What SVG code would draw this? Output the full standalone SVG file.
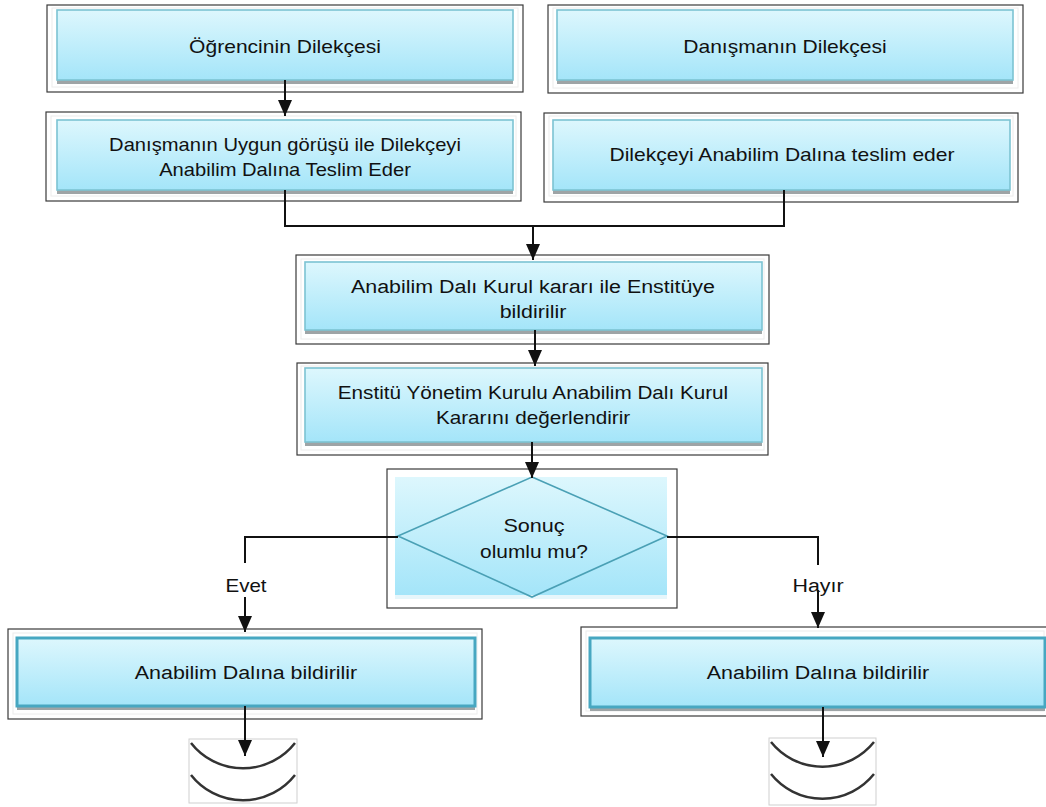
<svg xmlns="http://www.w3.org/2000/svg" width="1046" height="807" viewBox="0 0 1046 807">
<style>
.frame{fill:#fff;stroke:#3a3a3a;stroke-width:1.2}
.glow{fill:none;stroke:#ececec;stroke-width:1}
.shadow{fill:#9ea4a6}
.box{fill:url(#blue);stroke:#7cc3d3;stroke-width:1.6}
.boxb{fill:url(#blue);stroke:#47a7c1;stroke-width:3}
.t{font-family:"Liberation Sans",Arial,sans-serif;font-size:18px;fill:#111;text-anchor:middle}
.c{fill:none;stroke:#111;stroke-width:2}
.arc{fill:none;stroke:#333;stroke-width:2.5}
.end{fill:#fff;stroke:#cfcfcf;stroke-width:1}
</style>
<defs>
<linearGradient id="blue" x1="0" y1="0" x2="0" y2="1">
<stop offset="0" stop-color="#ddf7fd"/>
<stop offset="1" stop-color="#a4e5f9"/>
</linearGradient>
<marker id="ah" viewBox="0 0 16 14" refX="16" refY="7" markerWidth="16" markerHeight="14" markerUnits="userSpaceOnUse" orient="auto">
<path d="M0,0 L16,7 L0,14 Z" fill="#111"/>
</marker>
</defs>
<rect width="1046" height="807" fill="#fff"/>

<g id="n1">
<rect class="frame" x="47" y="5" width="476" height="87"/>
<rect class="glow" x="52" y="8" width="466" height="79"/>
<rect class="shadow" x="57" y="80" width="456" height="4"/>
<rect class="box" x="57" y="10" width="456" height="70"/>
<text class="t" transform="translate(285 53) scale(1.17 1)">Öğrencinin Dilekçesi</text>
</g>

<g id="n2">
<rect class="frame" x="46" y="112" width="475" height="89"/>
<rect class="glow" x="51" y="116" width="465" height="80"/>
<rect class="shadow" x="57" y="190" width="456" height="4"/>
<rect class="box" x="57" y="120" width="456" height="70"/>
<text class="t" transform="translate(285 151) scale(1.12 1)">Danışmanın Uygun görüşü ile Dilekçeyi</text>
<text class="t" transform="translate(285 176) scale(1.12 1)">Anabilim Dalına Teslim Eder</text>
</g>

<g id="n3">
<rect class="frame" x="548" y="5" width="475" height="88"/>
<rect class="glow" x="553" y="8" width="465" height="80"/>
<rect class="shadow" x="557" y="80" width="456" height="4"/>
<rect class="box" x="557" y="10" width="456" height="70"/>
<text class="t" transform="translate(785 53) scale(1.17 1)">Danışmanın Dilekçesi</text>
</g>

<g id="n4">
<rect class="frame" x="544" y="113" width="474" height="89"/>
<rect class="glow" x="549" y="116" width="464" height="80"/>
<rect class="shadow" x="553" y="190" width="457" height="4"/>
<rect class="box" x="553" y="120" width="457" height="70"/>
<text class="t" transform="translate(782 161) scale(1.17 1)">Dilekçeyi Anabilim Dalına teslim eder</text>
</g>

<g id="n5">
<rect class="frame" x="296" y="255" width="473" height="89"/>
<rect class="glow" x="301" y="259" width="463" height="80"/>
<rect class="shadow" x="305" y="330" width="457" height="4"/>
<rect class="box" x="305" y="262" width="457" height="68"/>
<text class="t" transform="translate(533 293) scale(1.19 1)">Anabilim Dalı Kurul kararı ile Enstitüye</text>
<text class="t" transform="translate(533 318) scale(1.19 1)">bildirilir</text>
</g>

<g id="n6">
<rect class="frame" x="297" y="363" width="471" height="92"/>
<rect class="glow" x="301" y="366" width="463" height="84"/>
<rect class="shadow" x="305" y="442" width="457" height="4"/>
<rect class="box" x="305" y="368" width="457" height="74"/>
<text class="t" transform="translate(533 399) scale(1.15 1)">Enstitü Yönetim Kurulu Anabilim Dalı Kurul</text>
<text class="t" transform="translate(533 424) scale(1.15 1)">Kararını değerlendirir</text>
</g>

<g id="n7">
<rect class="frame" x="387" y="469" width="290" height="139"/>
<rect x="395" y="477" width="272" height="118" fill="url(#blue)"/>
<rect x="395" y="595" width="272" height="4" fill="#e6f6fb"/>
<path d="M532,477 L667,536 L532,597 L398,536 Z" fill="none" stroke="#4aa0b5" stroke-width="1.6"/>
<text class="t" transform="translate(534 532) scale(1.2 1)">Sonuç</text>
<text class="t" transform="translate(534 558) scale(1.16 1)">olumlu mu?</text>
</g>

<g id="n8">
<rect class="frame" x="8" y="629" width="474" height="90"/>
<rect class="glow" x="13" y="633" width="464" height="81"/>
<rect class="shadow" x="17" y="706" width="458" height="4"/>
<rect class="boxb" x="17" y="638" width="458" height="68"/>
<text class="t" transform="translate(246 679) scale(1.19 1)">Anabilim Dalına bildirilir</text>
</g>

<g id="n9">
<rect class="frame" x="581" y="627" width="466" height="89"/>
<rect class="glow" x="586" y="631" width="458" height="80"/>
<rect class="shadow" x="590" y="707" width="455" height="4"/>
<rect class="boxb" x="590" y="638" width="455" height="69"/>
<text class="t" transform="translate(818 679) scale(1.19 1)">Anabilim Dalına bildirilir</text>
</g>

<g id="n10">
<rect class="end" x="189" y="739" width="108" height="64"/>
<path class="arc" d="M191,743 A66,66 0 0 0 295,743"/>
<path class="arc" d="M191,775 A66,66 0 0 0 295,775"/>
</g>

<g id="n11">
<rect class="end" x="769" y="738" width="107" height="67"/>
<path class="arc" d="M771,742 A66,66 0 0 0 874,742"/>
<path class="arc" d="M771,774 A66,66 0 0 0 874,774"/>
</g>

<g id="connectors">
<path class="c" d="M285,80 V116" marker-end="url(#ah)"/>
<path class="c" d="M285,190 V226 H784 V190"/>
<path class="c" d="M533,226 V260" marker-end="url(#ah)"/>
<path class="c" d="M535,330 V366" marker-end="url(#ah)"/>
<path class="c" d="M532,442 V478" marker-end="url(#ah)"/>
<path class="c" d="M398,537 H245 V563"/>
<path class="c" d="M245,597 V632" marker-end="url(#ah)"/>
<path class="c" d="M667,537 H818 V565"/>
<path class="c" d="M818,590 V628" marker-end="url(#ah)"/>
<path class="c" d="M245,706 V756" marker-end="url(#ah)"/>
<path class="c" d="M823,707 V757" marker-end="url(#ah)"/>
<text class="t" transform="translate(246 592) scale(1.14 1)">Evet</text>
<text class="t" transform="translate(818 592) scale(1.19 1)">Hayır</text>
</g>
</svg>
